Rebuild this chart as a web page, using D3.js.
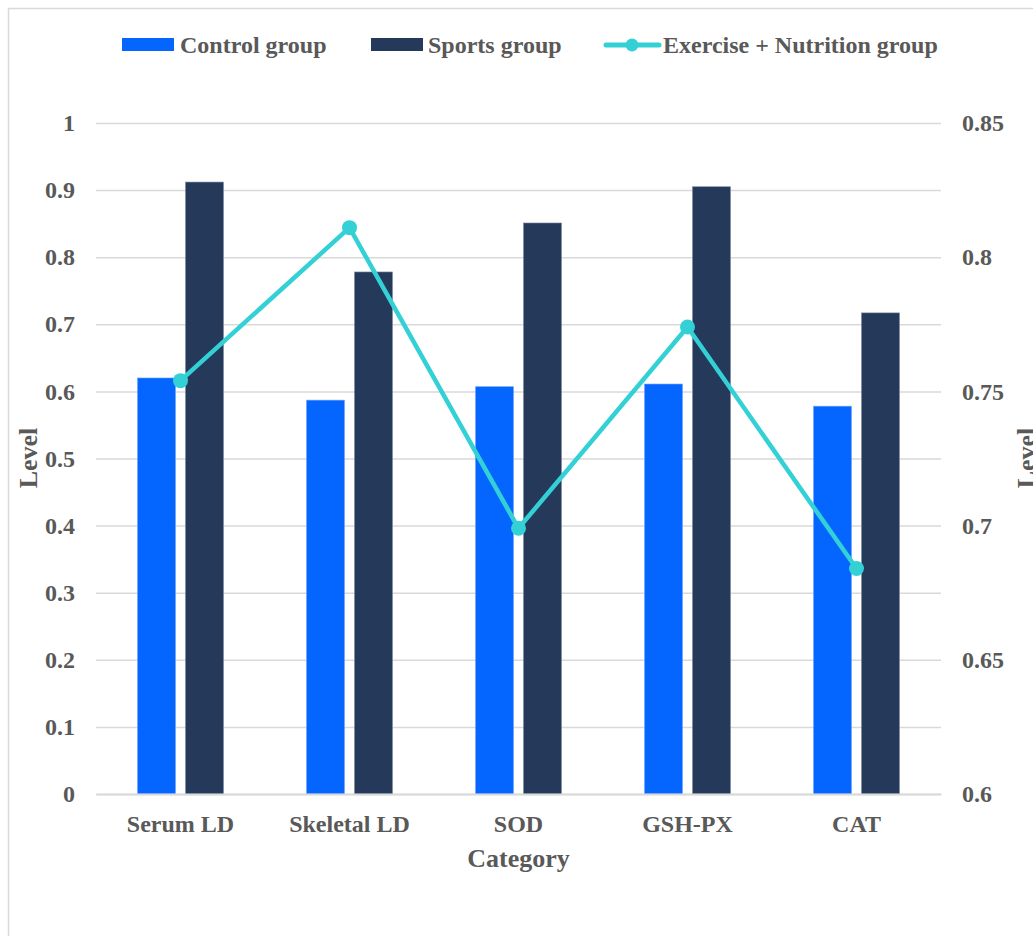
<!DOCTYPE html>
<html>
<head>
<meta charset="utf-8">
<script src="https://cdn.jsdelivr.net/npm/d3@7"></script>
<style>
  body { margin: 0; background: #fff; }
  text { font-family: "Liberation Serif", "Times New Roman", serif; font-weight: bold; fill: #595959; }
</style>
</head>
<body>
<div id="chart"></div>
<script>
    var categories = ['Serum LD', 'Skeletal LD', 'SOD', 'GSH-PX', 'CAT'];
    var controlValues = [0.620, 0.587, 0.607, 0.611, 0.578];
    var sportsValues = [0.912, 0.778, 0.851, 0.905, 0.717];
    var nutritionValues = [0.754, 0.811, 0.699, 0.774, 0.684];
    var leftTicks = [0, 0.1, 0.2, 0.3, 0.4, 0.5, 0.6, 0.7, 0.8, 0.9, 1];
    var rightTicks = [0.6, 0.65, 0.7, 0.75, 0.8, 0.85];
    var seriesNames = ['Control group', 'Sports group', 'Exercise + Nutrition group'];

    var w = 1033, h = 936;
    var plot = { left: 96, right: 941, top: 123, bottom: 794 };
    var colors = { control: '#0466FF', sports: '#25395B', line: '#33D1D6', grid: '#D9D9D9' };

    var svg = d3.select('#chart').append('svg')
        .attr('width', w)
        .attr('height', h);

    // outer frame (cut off on the right and bottom)
    svg.append('rect')
        .attr('x', 8.5).attr('y', 8.5)
        .attr('width', 1100).attr('height', 1000)
        .attr('fill', 'none')
        .attr('stroke', colors.grid)
        .attr('stroke-width', 1.5);

    var x = d3.scaleBand()
        .domain(categories)
        .range([plot.left, plot.right]);

    var x1 = d3.scaleBand()
        .domain(['control', 'sports'])
        .range([0, x.bandwidth()])
        .paddingInner(0.208)
        .paddingOuter(0.865);

    var yL = d3.scaleLinear().domain([0, 1]).range([plot.bottom, plot.top]);
    var yR = d3.scaleLinear().domain([0.6, 0.85]).range([plot.bottom, plot.top]);

    // gridlines + left axis
    var yAxisL = d3.axisLeft(yL)
        .tickValues(leftTicks)
        .tickFormat(d3.format('~g'))
        .tickSize(-(plot.right - plot.left))
        .tickPadding(21);
    var gL = svg.append('g')
        .attr('transform', 'translate(' + plot.left + ',0)')
        .call(yAxisL);
    gL.select('.domain').remove();
    gL.selectAll('.tick line').attr('stroke', colors.grid).attr('stroke-width', 1.5);
    gL.selectAll('.tick text')
        .style('font-size', '24px')
        .style('font-family', '"Liberation Serif", serif')
        .attr('fill', '#595959');

    // right axis
    var yAxisR = d3.axisRight(yR)
        .tickValues(rightTicks)
        .tickFormat(d3.format('~g'))
        .tickSize(0)
        .tickPadding(21);
    var gR = svg.append('g')
        .attr('transform', 'translate(' + plot.right + ',0)')
        .call(yAxisR);
    gR.select('.domain').remove();
    gR.selectAll('.tick text')
        .style('font-size', '24px')
        .style('font-family', '"Liberation Serif", serif')
        .attr('fill', '#595959');

    // bars
    var groups = svg.selectAll('.cat')
        .data(categories)
        .enter().append('g')
        .attr('class', 'cat')
        .attr('transform', function(d) { return 'translate(' + x(d) + ',0)'; });

    groups.append('rect')
        .attr('x', x1('control'))
        .attr('y', function(d, i) { return yL(controlValues[i]); })
        .attr('width', x1.bandwidth())
        .attr('height', function(d, i) { return plot.bottom - yL(controlValues[i]); })
        .attr('fill', colors.control)
        .attr('stroke', '#6FA3FF')
        .attr('stroke-width', 0.6);

    groups.append('rect')
        .attr('x', x1('sports'))
        .attr('y', function(d, i) { return yL(sportsValues[i]); })
        .attr('width', x1.bandwidth())
        .attr('height', function(d, i) { return plot.bottom - yL(sportsValues[i]); })
        .attr('fill', colors.sports)
        .attr('stroke', '#7D8AA3')
        .attr('stroke-width', 0.6);

    // x axis
    var xAxis = d3.axisBottom(x).tickSize(0).tickPadding(21);
    var gX = svg.append('g')
        .attr('transform', 'translate(0,' + plot.bottom + ')')
        .call(xAxis);
    gX.select('.domain').attr('stroke', colors.grid).attr('stroke-width', 2);
    gX.selectAll('.tick text')
        .style('font-size', '24px')
        .style('font-family', '"Liberation Serif", serif')
        .attr('fill', '#595959');

    // line series
    var line = d3.line()
        .x(function(d, i) { return x(categories[i]) + x.bandwidth() / 2; })
        .y(function(d) { return yR(d); });

    svg.append('path')
        .datum(nutritionValues)
        .attr('d', line)
        .attr('fill', 'none')
        .attr('stroke', colors.line)
        .attr('stroke-width', 4.5)
        .attr('stroke-linejoin', 'round');

    svg.selectAll('.dot')
        .data(nutritionValues)
        .enter().append('circle')
        .attr('class', 'dot')
        .attr('cx', function(d, i) { return x(categories[i]) + x.bandwidth() / 2; })
        .attr('cy', function(d) { return yR(d); })
        .attr('r', 7.5)
        .attr('fill', colors.line);

    // axis titles
    svg.append('text')
        .attr('x', (plot.left + plot.right) / 2)
        .attr('y', 867)
        .attr('text-anchor', 'middle')
        .style('font-size', '26px')
        .text('Category');

    svg.append('text')
        .attr('transform', 'translate(37,458) rotate(-90)')
        .attr('text-anchor', 'middle')
        .style('font-size', '26px')
        .text('Level');

    svg.append('text')
        .attr('transform', 'translate(1035,458) rotate(-90)')
        .attr('text-anchor', 'middle')
        .style('font-size', '26px')
        .text('Level');

    // legend
    var legend = svg.append('g');
    legend.append('rect')
        .attr('x', 122).attr('y', 38).attr('width', 52).attr('height', 13)
        .attr('fill', colors.control);
    legend.append('text')
        .attr('x', 180).attr('y', 53)
        .style('font-size', '24px')
        .text(seriesNames[0]);

    legend.append('rect')
        .attr('x', 371).attr('y', 38).attr('width', 52).attr('height', 13)
        .attr('fill', colors.sports);
    legend.append('text')
        .attr('x', 428).attr('y', 53)
        .style('font-size', '24px')
        .text(seriesNames[1]);

    legend.append('line')
        .attr('x1', 606).attr('x2', 659)
        .attr('y1', 45).attr('y2', 45)
        .attr('stroke', colors.line)
        .attr('stroke-width', 5)
        .attr('stroke-linecap', 'round');
    legend.append('circle')
        .attr('cx', 632).attr('cy', 45).attr('r', 6.5)
        .attr('fill', colors.line);
    legend.append('text')
        .attr('x', 663).attr('y', 53)
        .style('font-size', '24px')
        .text(seriesNames[2]);
</script>
</body>
</html>
